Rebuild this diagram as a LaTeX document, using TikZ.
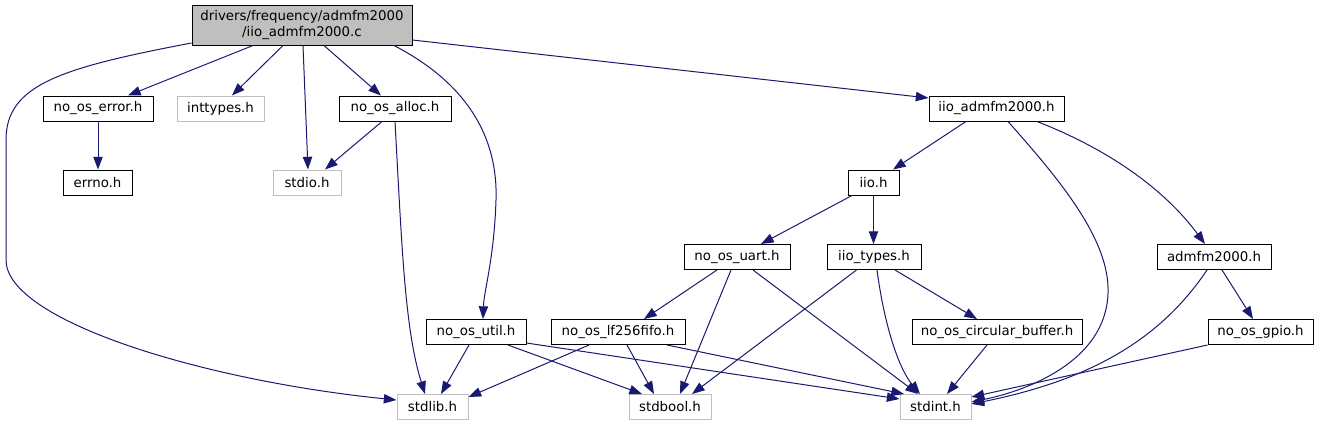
\documentclass[tikz,border=0pt]{standalone}
\usepackage{fontspec}
\setmainfont{DejaVu Sans}
\usetikzlibrary{arrows.meta,calc}
\definecolor{edgeblue}{HTML}{191970}
\definecolor{greyseventyfive}{HTML}{BFBFBF}
\begin{document}
\begin{tikzpicture}[x=0.75pt,y=-0.75pt,
  box/.style={draw=black,line width=0.75pt,fill=white,minimum height=18.75pt,inner sep=0pt,font=\fontsize{10}{12}\selectfont},
  sysbox/.style={box,draw=greyseventyfive},
  w/.style={minimum width=#1*0.75pt},
  edge/.style={draw=edgeblue,line width=0.75pt,-{Triangle[length=9.5pt,width=7pt]}}]
\useasboundingbox (0,0) rectangle (1320,425);
% nodes
\node[box,fill=greyseventyfive,minimum height=30pt,w=220,align=center] (main) at (302,25) {drivers/frequency/admfm2000\\/iio\_admfm2000.c};
\node[box,w=110] (err) at (98,108.5) {no\_os\_error.h};
\node[sysbox,w=87] (inttypes) at (220.5,108.5) {inttypes.h};
\node[box,w=112] (alloc) at (395,108.5) {no\_os\_alloc.h};
\node[box,w=135] (iioadm) at (996.5,108.5) {iio\_admfm2000.h};
\node[box,w=69] (errno) at (97.5,182.5) {errno.h};
\node[sysbox,w=68] (stdio) at (307,182.5) {stdio.h};
\node[box,w=51] (iio) at (873.5,182.5) {iio.h};
\node[box,w=106] (uart) at (737,257) {no\_os\_uart.h};
\node[box,w=94] (types) at (874,257) {iio\_types.h};
\node[box,w=114] (admfm) at (1214,257) {admfm2000.h};
\node[box,w=100] (util) at (476,332) {no\_os\_util.h};
\node[box,w=134] (lf) at (618,332) {no\_os\_lf256fifo.h};
\node[box,w=170] (circ) at (997,332) {no\_os\_circular\_buffer.h};
\node[box,w=105] (gpio) at (1260.5,332) {no\_os\_gpio.h};
\node[sysbox,w=71] (stdlib) at (432.5,407) {stdlib.h};
\node[sysbox,w=82] (stdbool) at (670,407) {stdbool.h};
\node[sysbox,w=71] (stdint) at (935.5,407) {stdint.h};
% edges
\draw[edge] ($(main.south)+(-49,0)$) -- ($(err.north)+(30,0)$);
\draw[edge] ($(main.south)+(-19,0)$) -- ($(inttypes.north)+(11.5,0)$);
\draw[edge] ($(main.south)+(1,0)$) -- ($(stdio.north)+(1,0)$);
\draw[edge] ($(main.south)+(22,0)$) -- ($(alloc.north)+(-14,0)$);
\draw[edge] ($(main.south)+(92,0)$) .. controls (470,85) and (498,140) .. (496,200)
  .. controls (494,260) and (484,290) .. ($(util.north)+(7,0)$);
\draw[edge] ($(main.east)+(0,15)$) -- ($(iioadm.west)+(0,-10.5)$);
\draw[edge] ($(main.west)+(0,18)$) .. controls (60,68) and (6,85) .. (6,140)
  -- (6,260) .. controls (6,320) and (200,380) .. ($(stdlib.west)+(0,-7)$);
\draw[edge] (err.south) -- ($(errno.north)+(0.5,0)$);
\draw[edge] ($(alloc.south)+(-13,0)$) -- ($(stdio.north)+(18,0)$);
\draw[edge] (alloc.south) .. controls (402,250) and (405,330) .. ($(stdlib.north)+(-7.5,0)$);
\draw[edge] ($(iioadm.south)+(-30.5,0)$) -- ($(iio.north)+(19.5,0)$);
\draw[edge] ($(iioadm.south)+(11.5,0)$) .. controls (1060,180) and (1110,240) .. (1108,293)
  .. controls (1106,360) and (1030,390) .. ($(stdint.east)+(0,-5)$);
\draw[edge] ($(iioadm.south)+(40.5,0)$) .. controls (1110,150) and (1165,190) .. ($(admfm.north)+(-9,0)$);
\draw[edge] ($(iio.south)+(-21.5,0)$) -- ($(uart.north)+(24,0)$);
\draw[edge] (iio.south) -- ($(types.north)+(-0.5,0)$);
\draw[edge] ($(uart.south)+(-20,0)$) -- ($(lf.north)+(26,0)$);
\draw[edge] ($(uart.south)+(-6,0)$) -- ($(stdbool.north)+(10,0)$);
\draw[edge] ($(uart.south)+(16,0)$) -- ($(stdint.north)+(-17.5,0)$);
\draw[edge] ($(types.south)+(-17.5,0)$) -- ($(stdbool.north)+(22,0)$);
\draw[edge] ($(types.south)+(3,0)$) .. controls (885,330) and (900,370) .. ($(stdint.north)+(-15.5,0)$);
\draw[edge] ($(types.south)+(21,0)$) -- ($(circ.north)+(-20,0)$);
\draw[edge] ($(admfm.south)+(-7,0)$) .. controls (1160,340) and (1090,380) .. ($(stdint.east)+(0,-3)$);
\draw[edge] ($(admfm.south)+(8,0)$) -- ($(gpio.north)+(-7.5,0)$);
\draw[edge] ($(util.south)+(-7,0)$) -- ($(stdlib.north)+(8.5,0)$);
\draw[edge] ($(util.south)+(32,0)$) -- ($(stdbool.north)+(-28,0)$);
\draw[edge] ($(util.east)+(0,11)$) -- ($(stdint.west)+(0,-8)$);
\draw[edge] ($(lf.south)+(-29,0)$) -- ($(stdlib.east)+(0,-10)$);
\draw[edge] ($(lf.south)+(9,0)$) -- ($(stdbool.north)+(-16,0)$);
\draw[edge] ($(lf.south)+(49,0)$) -- ($(stdint.north)+(-31.5,0)$);
\draw[edge] ($(circ.south)+(-10,0)$) -- ($(stdint.north)+(11.5,0)$);
\draw[edge] (gpio.south west) -- ($(stdint.east)+(0,-10)$);
\end{tikzpicture}
\end{document}
